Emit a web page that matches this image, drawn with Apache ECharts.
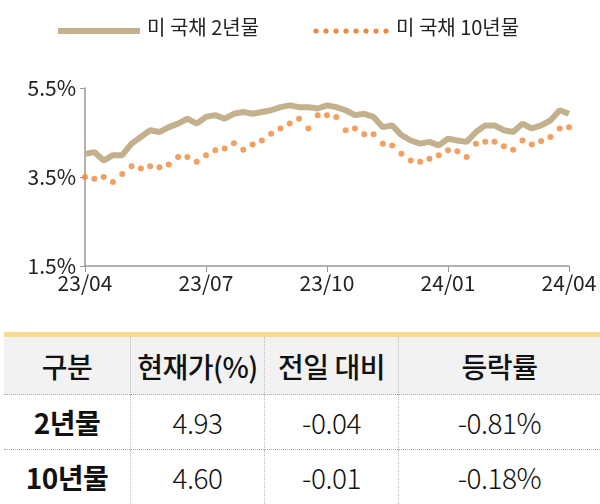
<!DOCTYPE html>
<html><head><meta charset="utf-8">
<script src="https://cdn.jsdelivr.net/npm/echarts@6/dist/echarts.min.js"></script>
<style>
body{margin:0;width:600px;height:504px;overflow:hidden;background:#fff;font-family:"Noto Sans CJK KR",sans-serif;}
#c{width:600px;height:325px;}
#t{position:absolute;left:4px;top:332px;width:596px;border-collapse:collapse;border-top:5px solid #f8d990;}
#t td{text-align:center;color:#111;font-size:28px;padding:0;border-left:1px dotted #bbb;letter-spacing:-0.5px;}
#t td:first-child{border-left:none;}
#t tr.h td{background:#f2f2f2;height:57px;font-weight:500;}
#t tr.r td{height:54px;border-top:1px dotted #aaa;font-weight:300;}
#t tr.r td:first-child{font-weight:700;}
</style></head><body>
<div id="c"></div>
<table id="t">
<tr class="h"><td style="width:126px">구분</td><td style="width:133px">현재가(%)</td><td style="width:133px">전일 대비</td><td>등락률</td></tr>
<tr class="r"><td>2년물</td><td>4.93</td><td>-0.04</td><td>-0.81%</td></tr>
<tr class="r"><td>10년물</td><td>4.60</td><td>-0.01</td><td>-0.18%</td></tr>
</table>
<script>
const quarterLabels = {0:'23/04',13:'23/07',26:'23/10',39:'24/01',52:'24/04'};
const weeks = Array.from({length:53},(_,i)=>i);
const y2 = [4.02,4.06,3.87,3.99,3.99,4.25,4.40,4.55,4.51,4.62,4.70,4.81,4.70,4.85,4.89,4.81,4.92,4.96,4.92,4.96,5.00,5.07,5.11,5.07,5.07,5.04,5.11,5.07,5.00,4.89,4.92,4.85,4.62,4.66,4.44,4.32,4.25,4.29,4.21,4.36,4.32,4.29,4.51,4.66,4.66,4.55,4.51,4.70,4.59,4.66,4.77,5.00,4.92];
const y10 = [3.50,3.46,3.50,3.39,3.57,3.74,3.69,3.74,3.72,3.78,3.95,3.95,3.84,3.99,4.10,4.14,4.26,4.11,4.23,4.32,4.47,4.59,4.70,4.81,4.59,4.89,4.89,4.85,4.55,4.59,4.46,4.46,4.25,4.21,4.02,3.87,3.84,3.91,3.99,4.10,4.08,3.95,4.25,4.29,4.29,4.19,4.11,4.32,4.23,4.31,4.40,4.59,4.62];
const C2='#c2b18c', C10='#f0873a';
const ch = echarts.init(document.getElementById('c'));
const dots=[];
for(let i=0;i<8;i++) dots.push({type:'circle',shape:{cx:316+i*10,cy:31,r:2.6},style:{fill:C10}});
ch.setOption({
  animation:false,
  grid:{left:85,right:31,top:88,bottom:59},
  graphic:[
    {type:'line',shape:{x1:58,y1:31,x2:140,y2:31},style:{stroke:C2,lineWidth:6}},
    {type:'text',left:147,top:17,style:{text:'미 국채 2년물',fill:'#222',font:'20px "Noto Sans CJK KR"'}},
    ...dots,
    {type:'text',left:396,top:17,style:{text:'미 국채 10년물',fill:'#222',font:'20px "Noto Sans CJK KR"'}}
  ],
  xAxis:{type:'category',data:weeks,boundaryGap:false,
    axisLine:{lineStyle:{color:'#999',width:1.5}},
    axisTick:{interval:(i)=>i%13===0,length:6,lineStyle:{color:'#999'}},
    axisLabel:{interval:(i)=>i%13===0,formatter:(v)=>quarterLabels[v]||'',fontSize:21,color:'#222',margin:7,fontFamily:'Noto Sans CJK KR',showMaxLabel:true}},
  yAxis:{type:'value',min:1.5,max:5.5,interval:2,splitLine:{show:false},
    axisLine:{show:true,lineStyle:{color:'#999',width:1.5}},
    axisTick:{show:true,length:5,lineStyle:{color:'#999'}},
    axisLabel:{formatter:(v)=>v.toFixed(1)+'%',fontSize:21,color:'#222',margin:9,fontFamily:'Noto Sans CJK KR'}},
  series:[
    {name:'미 국채 2년물',type:'line',data:y2,symbol:'none',lineStyle:{color:C2,width:6}},
    {name:'미 국채 10년물',type:'scatter',data:y10,symbolSize:6,itemStyle:{color:C10}}
  ]
});
</script></body></html>
